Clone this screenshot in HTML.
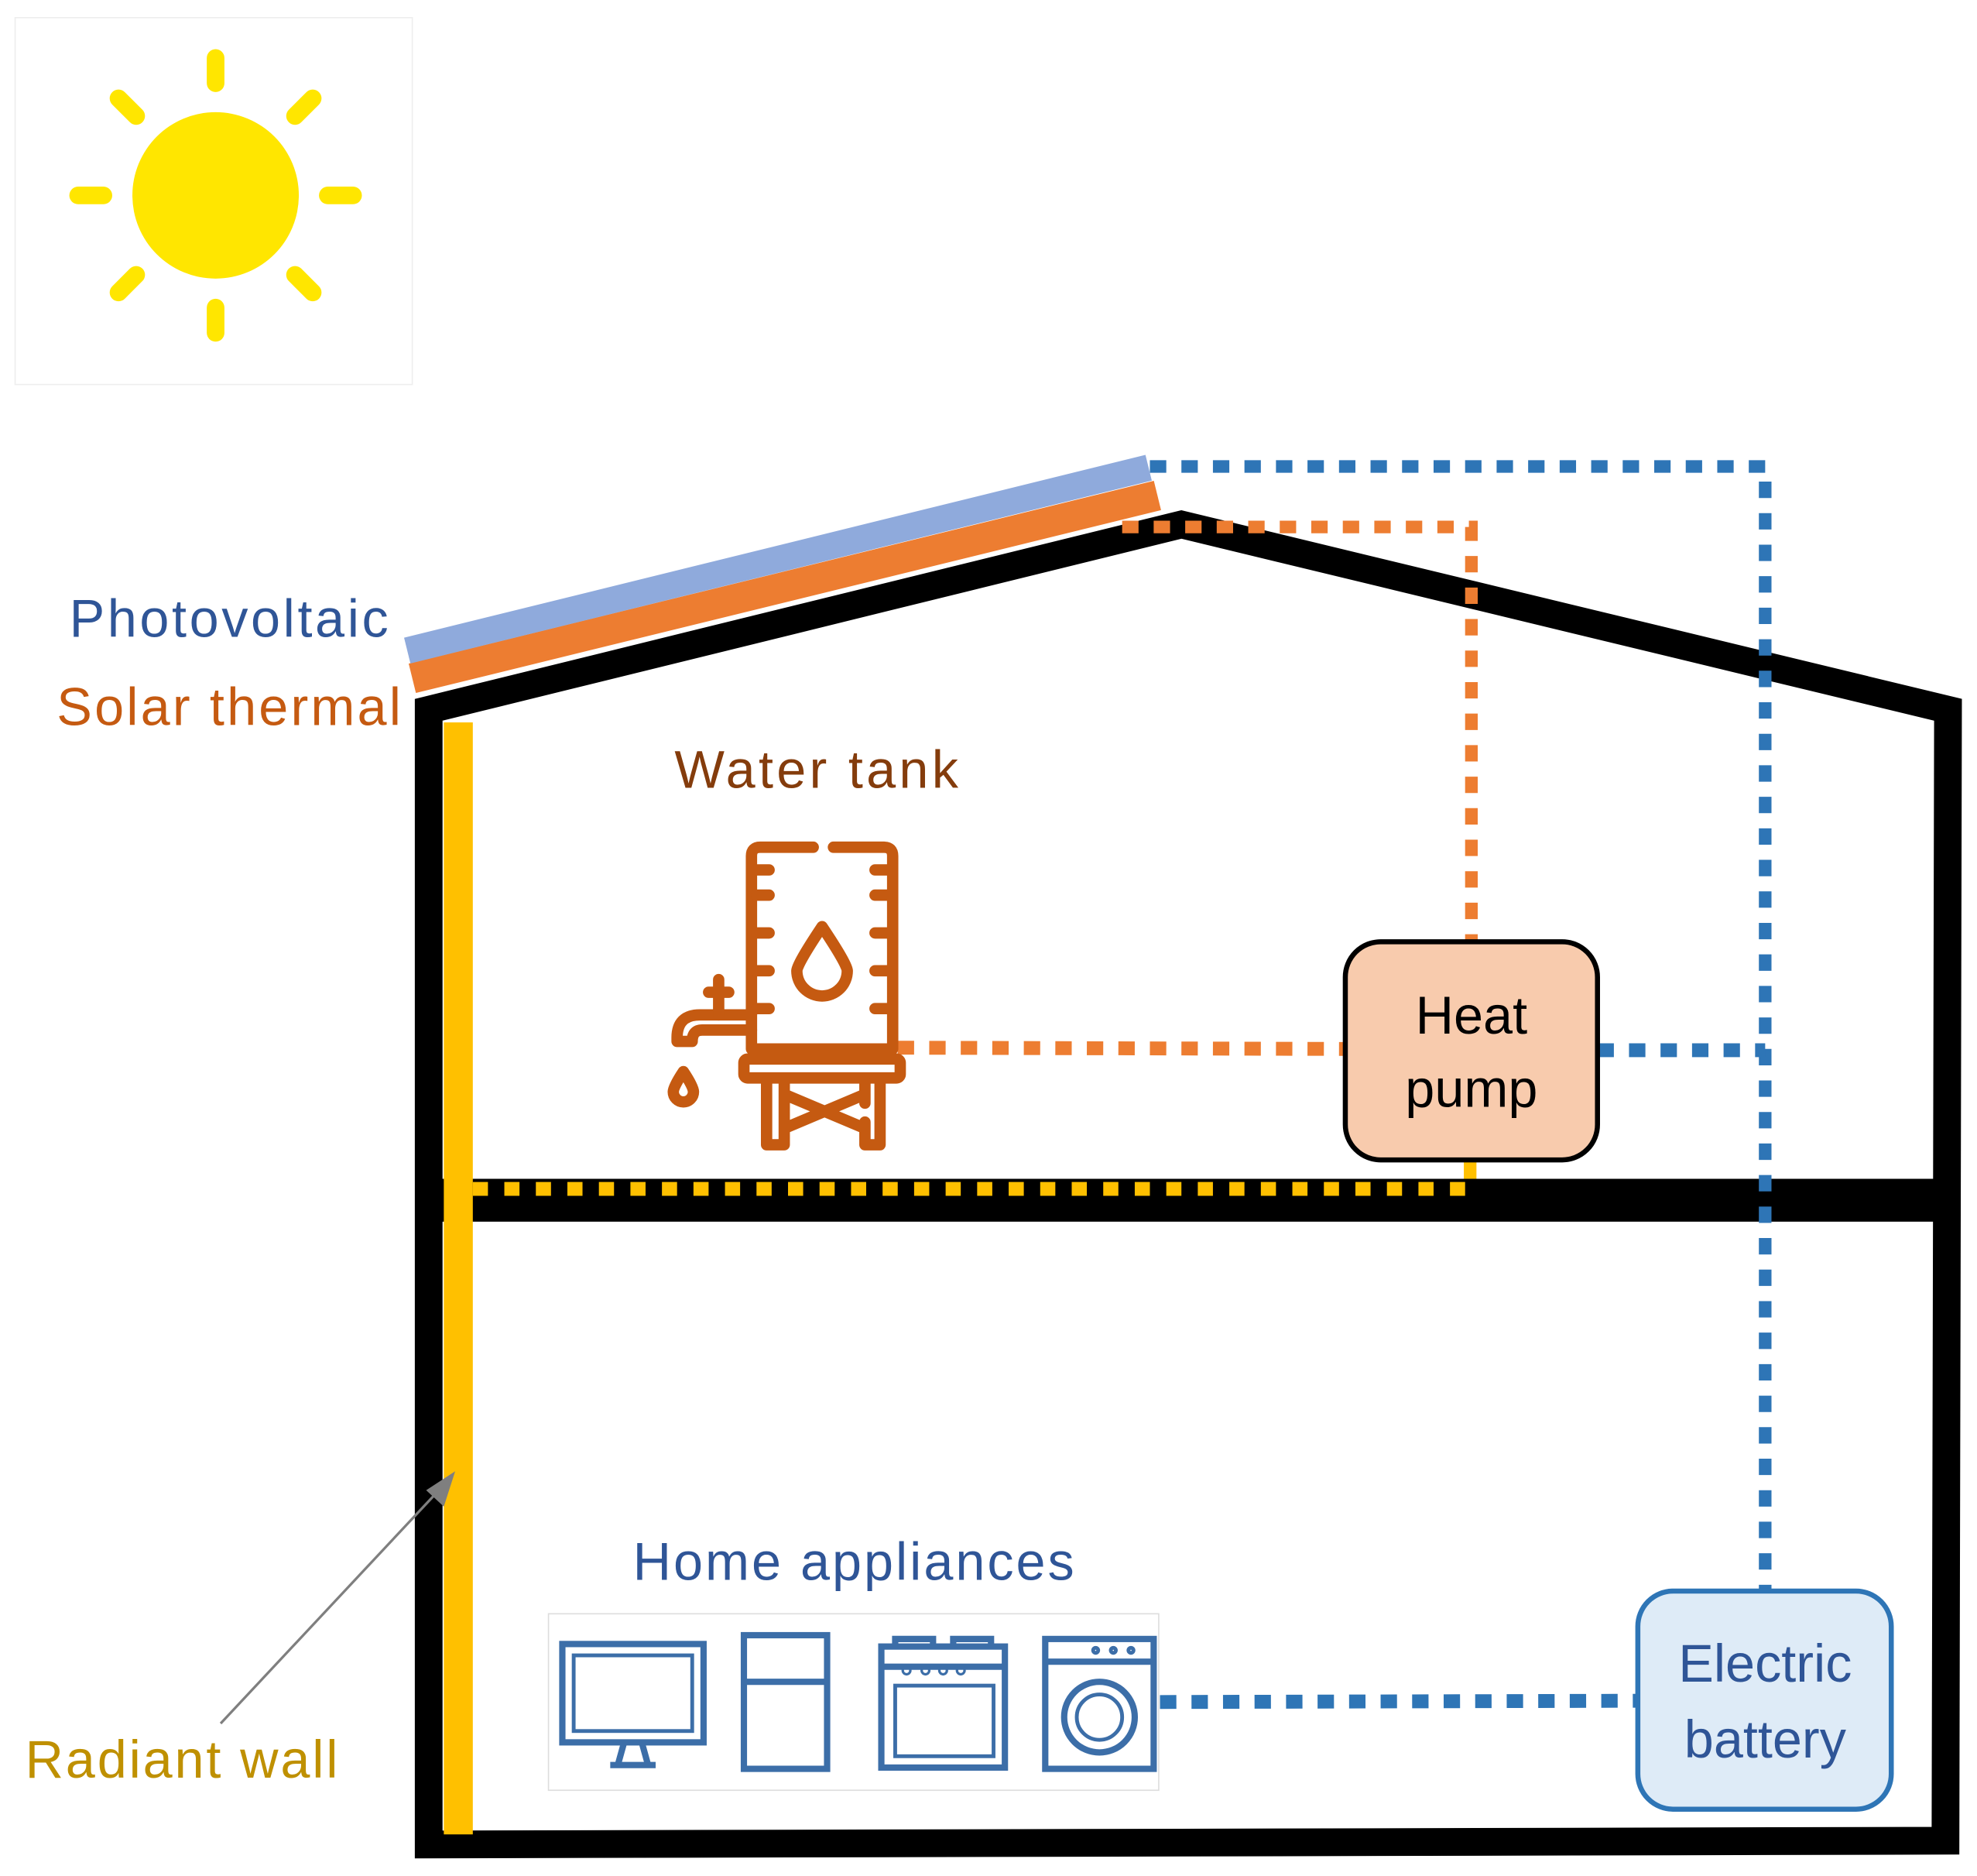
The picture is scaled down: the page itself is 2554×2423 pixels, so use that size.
<!DOCTYPE html>
<html><head><meta charset="utf-8"><style>
html,body{margin:0;padding:0;background:#fff;}
svg{display:block;}
text{font-family:"Liberation Sans",sans-serif;}
</style></head><body>
<svg width="2554" height="2423" viewBox="0 0 1568 1488" preserveAspectRatio="none" xmlns="http://www.w3.org/2000/svg">
<rect x="12" y="14" width="315" height="291" fill="#fff" stroke="#eee" stroke-width="1"/>
<circle cx="171" cy="155" r="66" fill="#ffe600"/>
<g stroke="#ffe600" stroke-width="14" stroke-linecap="round">
<line x1="171" y1="46" x2="171" y2="66"/><line x1="171" y1="244" x2="171" y2="264"/>
<line x1="62" y1="155" x2="82" y2="155"/><line x1="260" y1="155" x2="280" y2="155"/>
<line x1="94" y1="78" x2="108" y2="92"/><line x1="234" y1="218" x2="248" y2="232"/>
<line x1="94" y1="232" x2="108" y2="218"/><line x1="234" y1="92" x2="248" y2="78"/>
</g>
<line x1="327" y1="538" x2="918" y2="393" stroke="#ed7d31" stroke-width="24"/>
<line x1="323" y1="516" x2="911" y2="371" stroke="#8faadc" stroke-width="21"/>
<path d="M340,1463 L340,563 L937,416 L1545,563 L1543,1460 Z" fill="none" stroke="#000" stroke-width="22" stroke-linejoin="miter"/>
<rect x="350" y="935" width="1190" height="34" fill="#000"/>
<rect x="352" y="573" width="23" height="882" fill="#ffc000"/>
<line x1="375" y1="943" x2="1165" y2="943" stroke="#ffc000" stroke-width="11" stroke-dasharray="12,13"/>
<line x1="1166" y1="920" x2="1166" y2="935" stroke="#ffc000" stroke-width="10"/>
<polyline points="890,418 1167,418 1167,750" fill="none" stroke="#ed7d31" stroke-width="10" stroke-dasharray="13,12"/>
<line x1="712" y1="831" x2="1066" y2="832" stroke="#ed7d31" stroke-width="11" stroke-dasharray="13,12"/>
<polyline points="912,370 1400,370 1400,1270" fill="none" stroke="#2e75b6" stroke-width="10" stroke-dasharray="13,12"/>
<line x1="1267" y1="833" x2="1400" y2="833" stroke="#2e75b6" stroke-width="11" stroke-dasharray="13,12"/>
<line x1="920" y1="1350" x2="1299" y2="1349" stroke="#2e75b6" stroke-width="11" stroke-dasharray="13,12"/>
<rect x="1067" y="747" width="200" height="173" rx="28" fill="#f8cbad" stroke="#000" stroke-width="4"/>
<text x="1167" y="820" font-size="42" text-anchor="middle" fill="#000">Heat</text>
<text x="1167" y="878" font-size="42" text-anchor="middle" fill="#000">pump</text>
<rect x="1299" y="1262" width="201" height="173" rx="28" fill="#deebf7" stroke="#2e75b6" stroke-width="4"/>
<text x="1400" y="1334" font-size="42" text-anchor="middle" fill="#2f5597">Electric</text>
<text x="1400" y="1394" font-size="42" text-anchor="middle" fill="#2f5597">battery</text>
<text x="55" y="505" font-size="42" fill="#2f5597" textLength="253">Photovoltaic</text>
<text x="45" y="575" font-size="42" fill="#c55a11" textLength="273">Solar thermal</text>
<text x="535" y="625" font-size="42" fill="#843c0c" textLength="225">Water tank</text>
<text x="502" y="1253" font-size="42" fill="#2f5597" textLength="350">Home appliances</text>
<text x="20" y="1410" font-size="42" fill="#bf9000" textLength="248">Radiant wall</text>
<line x1="175" y1="1367" x2="350" y2="1180" stroke="#7f7f7f" stroke-width="2"/>
<polygon points="361,1167 338,1182 352,1195" fill="#7f7f7f"/>
<g fill="none" stroke="#c55a11" stroke-width="9" stroke-linecap="round" stroke-linejoin="round">
<path d="M645,672 L603,672 Q596,672 596,679 L596,832 L708,832 L708,679 Q708,672 701,672 L661,672"/>
<path d="M600,710h10M600,740h10M600,770h10M600,800h10M704,710h-10M704,740h-10M704,770h-10M704,800h-10M600,690h10M704,690h-10"/>
<path d="M652,735 Q632,765 632,770 A20,20 0 0 0 672,770 Q672,765 652,735 Z"/>
<rect x="590" y="840" width="124" height="15" rx="3"/>
<path d="M608,858 L608,908 L622,908 L622,858 M686,858 L686,875 M686,890 L686,908 L698,908 L698,858 M622,868 L686,895 M622,895 L686,868"/>
<path d="M596,805 L555,805 Q537,805 537,823 L537,826 L549,826 Q549,817 557,817 L596,817"/>
<path d="M570,805 L570,777 M562,787 L578,787"/>
<path d="M542,850 Q534,862 534,866 A8,8 0 0 0 550,866 Q550,862 542,850 Z"/>
</g>
<rect x="435" y="1280" width="484" height="140" fill="#fff" stroke="#ddd" stroke-width="1"/>
<g fill="none" stroke="#3c6ea8" stroke-width="5">
<rect x="446" y="1304" width="112" height="78"/>
<rect x="455" y="1313" width="94" height="60" stroke-width="3"/>
<path d="M495,1382 L490,1400 L514,1400 L509,1382 M484,1400 L520,1400"/>
<rect x="590" y="1297" width="66" height="106"/>
<line x1="590" y1="1334" x2="656" y2="1334"/>
<rect x="699" y="1306" width="98" height="96"/>
<line x1="699" y1="1322" x2="797" y2="1322"/>
<rect x="710" y="1337" width="78" height="56" stroke-width="3"/>
<circle cx="719" cy="1325" r="3" stroke-width="2"/><circle cx="734" cy="1325" r="3" stroke-width="2"/><circle cx="748" cy="1325" r="3" stroke-width="2"/><circle cx="762" cy="1325" r="3" stroke-width="2"/>
<path d="M710,1306 L710,1300 L740,1300 L740,1306 M756,1306 L756,1300 L786,1300 L786,1306"/>
<rect x="829" y="1300" width="86" height="103"/>
<line x1="829" y1="1318" x2="915" y2="1318"/>
<circle cx="872" cy="1362" r="28"/>
<circle cx="872" cy="1362" r="18" stroke-width="3"/>
<circle cx="869" cy="1309" r="2" stroke-width="3"/><circle cx="883" cy="1309" r="2" stroke-width="3"/><circle cx="897" cy="1309" r="2" stroke-width="3"/>
</g>
</svg>
</body></html>
